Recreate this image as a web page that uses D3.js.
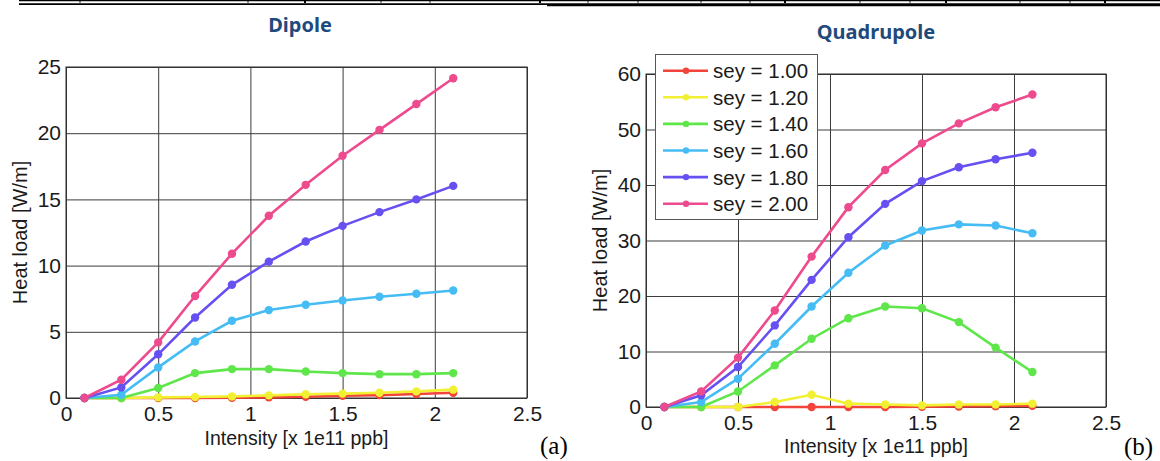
<!DOCTYPE html>
<html>
<head>
<meta charset="utf-8">
<script src="https://cdn.jsdelivr.net/npm/d3@7.9.0/dist/d3.min.js"></script>
<style>
  body { margin: 0; background: #fff; }
  svg { display: block; font-family: "Liberation Sans", Arial, sans-serif; }
</style>
</head>
<body>
<svg id="chart" width="1160" height="461"></svg>
<script>
// Intensity [x 1e11 ppb]
const intensity = [0.1, 0.3, 0.5, 0.7, 0.9, 1.1, 1.3, 1.5, 1.7, 1.9, 2.1];

const seyLabels = ["sey = 1.00", "sey = 1.20", "sey = 1.40", "sey = 1.60", "sey = 1.80", "sey = 2.00"];
const seyColors = ["#f2443a", "#f2f032", "#5fe64b", "#46bcf5", "#6650f2", "#ee4a8e"];

// Dipole heat load [W/m]
const dipole100 = [0, 0, 0, 0, 0.02, 0.05, 0.1, 0.17, 0.22, 0.3, 0.4];
const dipole120 = [0, 0, 0.05, 0.07, 0.12, 0.2, 0.28, 0.33, 0.4, 0.5, 0.63];
const dipole140 = [0, 0, 0.75, 1.88, 2.18, 2.18, 2.0, 1.88, 1.8, 1.8, 1.88];
const dipole160 = [0, 0.25, 2.31, 4.27, 5.83, 6.64, 7.04, 7.37, 7.65, 7.87, 8.12];
const dipole180 = [0, 0.8, 3.3, 6.08, 8.55, 10.3, 11.82, 13.0, 14.04, 15.0, 16.02];
const dipole200 = [0, 1.38, 4.2, 7.7, 10.9, 13.76, 16.1, 18.3, 20.25, 22.2, 24.15];

// Quadrupole heat load [W/m]
const quad100 = [0, 0, 0, 0, 0, 0, 0, 0.05, 0.1, 0.15, 0.2];
const quad120 = [0, 0, 0, 0.9, 2.2, 0.6, 0.45, 0.3, 0.45, 0.45, 0.6];
const quad140 = [0, 0, 2.8, 7.5, 12.3, 16.0, 18.1, 17.8, 15.3, 10.7, 6.3];
const quad160 = [0, 0.9, 5.1, 11.4, 18.1, 24.2, 29.1, 31.8, 32.9, 32.7, 31.3];
const quad180 = [0, 2.1, 7.2, 14.7, 22.9, 30.6, 36.6, 40.7, 43.2, 44.65, 45.8];
const quad200 = [0, 2.8, 8.9, 17.4, 27.1, 36.0, 42.7, 47.5, 51.1, 54.0, 56.3];

const xTicks = [0, 0.5, 1, 1.5, 2, 2.5];
const dipoleYTicks = [0, 5, 10, 15, 20, 25];
const quadYTicks = [0, 10, 20, 30, 40, 50, 60];

const svg = d3.select("#chart");

// leftover table rules at the top of the page
const rules = svg.append("g").attr("stroke", "#000");
rules.append("line").attr("x1", 19).attr("x2", 1160).attr("y1", 0.6).attr("y2", 0.6).attr("stroke-width", 1.2);
rules.append("line").attr("x1", 19).attr("x2", 1160).attr("y1", 4.2).attr("y2", 4.2).attr("stroke-width", 1.8);
rules.append("line").attr("x1", 547).attr("x2", 1160).attr("y1", 5.3).attr("y2", 5.3).attr("stroke-width", 2);
[80, 248, 305, 381, 430, 540, 588, 638, 701, 750, 785, 860, 910, 946, 1020, 1070, 1105].forEach(px => {
  const thick = [305, 540, 785, 946, 1105].includes(px);
  rules.append("line").attr("x1", px).attr("x2", px).attr("y1", 0).attr("y2", 3)
    .attr("stroke-width", thick ? 2 : 0.8);
});

function drawPanel(cfg) {
  const g = svg.append("g");
  const x = d3.scaleLinear().domain([0, 2.5]).range([cfg.left, cfg.right]);
  const y = d3.scaleLinear().domain([0, cfg.yMax]).range([cfg.bottom, cfg.top]);
  const h = cfg.bottom - cfg.top;
  const w = cfg.right - cfg.left;

  // x grid + tick labels
  const gx = g.append("g")
    .attr("transform", `translate(0,${cfg.bottom})`)
    .call(d3.axisBottom(x).tickValues(xTicks).tickSize(-h).tickPadding(8).tickFormat(d3.format("~g")));
  // y grid + tick labels
  const gy = g.append("g")
    .attr("transform", `translate(${cfg.left},0)`)
    .call(d3.axisLeft(y).tickValues(cfg.yTicks).tickSize(-w).tickPadding(5).tickFormat(d3.format("~g")));

  [gx, gy].forEach(a => {
    a.select(".domain").remove();
    a.selectAll(".tick line").attr("stroke", "#3c3c3c").attr("stroke-width", 1);
    a.selectAll(".tick text").attr("font-size", 21).attr("fill", "#1a1a1a")
      .attr("font-family", "'Liberation Sans', Arial, sans-serif");
  });

  g.append("rect")
    .attr("x", cfg.left).attr("y", cfg.top)
    .attr("width", w).attr("height", h)
    .attr("fill", "none").attr("stroke", "#2a2a2a").attr("stroke-width", 1);

  const line = d3.line().x((d, i) => x(intensity[i])).y(d => y(d));

  cfg.series.forEach((vals, k) => {
    g.append("path")
      .datum(vals)
      .attr("d", line)
      .attr("fill", "none")
      .attr("stroke", seyColors[k])
      .attr("stroke-width", 2.6);
    g.selectAll(null)
      .data(vals)
      .enter()
      .append("circle")
      .attr("cx", (d, i) => x(intensity[i]))
      .attr("cy", d => y(d))
      .attr("r", 4.2)
      .attr("fill", seyColors[k]);
  });

  // axis labels
  g.append("text")
    .attr("x", (cfg.left + cfg.right) / 2)
    .attr("y", cfg.xLabelY)
    .attr("text-anchor", "middle")
    .attr("font-size", 19.5)
    .attr("fill", "#1a1a1a")
    .text("Intensity [x 1e11 ppb]");
  g.append("text")
    .attr("transform", `translate(${cfg.yLabelX},${(cfg.top + cfg.bottom) / 2}) rotate(-90)`)
    .attr("text-anchor", "middle")
    .attr("font-size", 20)
    .attr("fill", "#1a1a1a")
    .text("Heat load [W/m]");

  // title
  g.append("text")
    .attr("x", cfg.titleX).attr("y", cfg.titleY)
    .attr("text-anchor", "middle")
    .attr("font-family", "'Noto Sans', 'Open Sans', sans-serif")
    .attr("font-weight", "bold")
    .attr("font-size", 20)
    .attr("fill", "#1f4a7c")
    .text(cfg.title);

  // panel tag
  g.append("text")
    .attr("x", cfg.tagX).attr("y", cfg.tagY)
    .attr("font-family", "'Liberation Serif', 'Times New Roman', serif")
    .attr("font-size", 25)
    .attr("fill", "#000")
    .text(cfg.tag);

  if (cfg.legend) {
    const lg = g.append("g");
    lg.append("rect")
      .attr("x", 655.5).attr("y", 54.5).attr("width", 162).attr("height", 165)
      .attr("fill", "#fff").attr("stroke", "#555").attr("stroke-width", 1);
    seyLabels.forEach((lab, k) => {
      const cy = 70.7 + k * 26.6;
      lg.append("line")
        .attr("x1", 663).attr("x2", 708).attr("y1", cy).attr("y2", cy)
        .attr("stroke", seyColors[k]).attr("stroke-width", 2.6);
      lg.append("circle").attr("cx", 686).attr("cy", cy).attr("r", 3.2).attr("fill", seyColors[k]);
      lg.append("text")
        .attr("x", 713).attr("y", cy + 7.5)
        .attr("font-size", 20.5).attr("fill", "#1a1a1a")
        .text(lab);
    });
  }
}

drawPanel({
  left: 66, right: 527, top: 67, bottom: 398,
  yMax: 25, yTicks: dipoleYTicks,
  series: [dipole100, dipole120, dipole140, dipole160, dipole180, dipole200],
  title: "Dipole", titleX: 300, titleY: 32,
  tag: "(a)", tagX: 540, tagY: 454,
  xLabelY: 445, yLabelX: 27,
  legend: false
});

drawPanel({
  left: 646, right: 1106, top: 74, bottom: 407,
  yMax: 60, yTicks: quadYTicks,
  series: [quad100, quad120, quad140, quad160, quad180, quad200],
  title: "Quadrupole", titleX: 876, titleY: 39,
  tag: "(b)", tagX: 1124, tagY: 455,
  xLabelY: 453, yLabelX: 607,
  legend: true
});
</script>
</body>
</html>
